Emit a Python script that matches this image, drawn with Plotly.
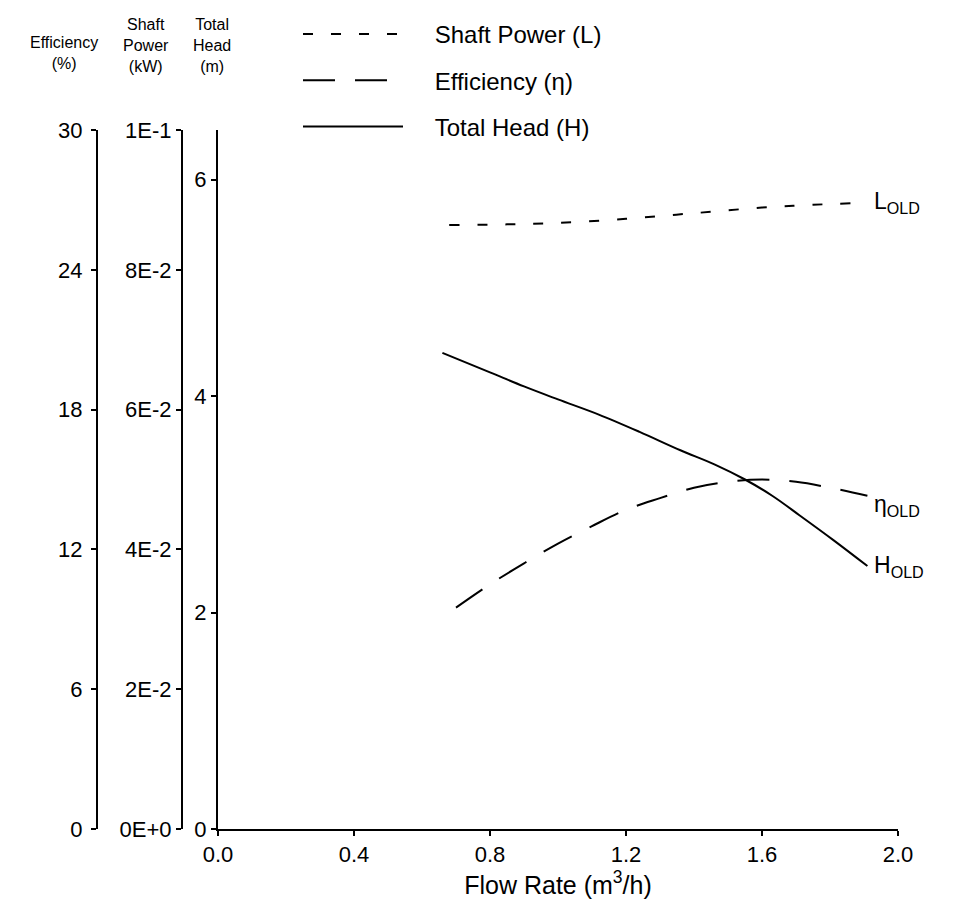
import plotly.graph_objects as go

# ---- data ----
flow_L = [0.68, 0.85, 1.00, 1.20, 1.40, 1.60, 1.75, 1.91]
power_L = [0.0864, 0.0865, 0.0867, 0.0873, 0.0881, 0.0889, 0.0893, 0.0896]

flow_eta = [0.70, 0.80, 0.90, 1.00, 1.10, 1.20, 1.30, 1.40, 1.50, 1.60, 1.70, 1.80, 1.91]
eff_eta = [9.5, 10.5, 11.4, 12.25, 13.0, 13.7, 14.2, 14.65, 14.9, 15.0, 14.9, 14.65, 14.3]

flow_H = [0.66, 0.80, 0.90, 1.00, 1.12, 1.24, 1.36, 1.46, 1.55, 1.63, 1.71, 1.81, 1.91]
head_H = [4.40, 4.22, 4.09, 3.97, 3.83, 3.67, 3.50, 3.37, 3.23, 3.08, 2.90, 2.67, 2.43]

x_ticks = [0.0, 0.4, 0.8, 1.2, 1.6, 2.0]
head_ticks = [0, 2, 4, 6]
power_ticks = [0, 0.02, 0.04, 0.06, 0.08, 0.1]
power_ticktext = ["0E+0", "2E-2", "4E-2", "6E-2", "8E-2", "1E-1"]
eff_ticks = [0, 6, 12, 18, 24, 30]

FONT = "Liberation Sans, Arial, sans-serif"
W, H = 958, 908
ML, MR, MT, MB = 60, 60, 130, 79
pw = W - ML - MR
ph = H - MT - MB


def px2paper_x(px):
    return (px - ML) / pw


def py2paper_y(py):
    return (H - MB - py) / ph


x_dom0 = px2paper_x(218)
PAD = "\u00a0" * 4

fig = go.Figure()
fig.add_trace(go.Scatter(x=flow_L, y=power_L, mode="lines", yaxis="y2",
                         name=PAD + "Shaft Power (L)", legendgroup="L",
                         line=dict(color="black", width=2, dash="10px,18px", shape="spline")))
fig.add_trace(go.Scatter(x=flow_eta, y=eff_eta, mode="lines", yaxis="y3",
                         name=PAD + "Efficiency (η)", legendgroup="e",
                         line=dict(color="black", width=2, dash="32px,20px", shape="spline")))
fig.add_trace(go.Scatter(x=flow_H, y=head_H, mode="lines", yaxis="y",
                         name=PAD + "Total Head (H)", legendgroup="H",
                         line=dict(color="black", width=2, shape="spline")))

axis_common = dict(showgrid=False, zeroline=False, showline=True, linecolor="black",
                   linewidth=2, ticks="outside", ticklen=5, tickwidth=2, tickcolor="black",
                   tickfont=dict(family=FONT, size=22, color="black"))

fig.update_layout(
    width=W, height=H,
    margin=dict(l=ML, r=MR, t=MT, b=MB),
    paper_bgcolor="white", plot_bgcolor="white",
    font=dict(family=FONT, color="black"),
    xaxis=dict(domain=[x_dom0, 1], range=[0, 2], tickvals=x_ticks, tickformat=".1f",
               title=dict(text="Flow Rate (m<sup>3</sup>/h)", standoff=10,
                          font=dict(family=FONT, size=25, color="black")),
               **axis_common),
    yaxis=dict(range=[0, 6.46], tickvals=head_ticks, anchor="x", side="left", **axis_common),
    yaxis2=dict(range=[0, 0.1], tickvals=power_ticks, ticktext=power_ticktext,
                overlaying="y", anchor="free", position=px2paper_x(182), side="left",
                **axis_common),
    yaxis3=dict(range=[0, 30], tickvals=eff_ticks, overlaying="y", anchor="free",
                position=px2paper_x(97), side="left", ticklabelstandoff=4, **axis_common),
    legend=dict(x=px2paper_x(298), y=py2paper_y(12), xanchor="left", yanchor="top",
                font=dict(family=FONT, size=24, color="black"), itemwidth=100,
                tracegroupgap=12, bgcolor="rgba(0,0,0,0)"),
    showlegend=True,
)

title_font = dict(family=FONT, size=16, color="black")
fig.add_annotation(text="Efficiency<br>(%)", x=px2paper_x(64), y=py2paper_y(32), xref="paper",
                   yref="paper", showarrow=False, xanchor="center", yanchor="top",
                   font=title_font)
fig.add_annotation(text="Shaft<br>Power<br>(kW)", x=px2paper_x(146), y=py2paper_y(14),
                   xref="paper", yref="paper", showarrow=False, xanchor="center",
                   yanchor="top", font=title_font)
fig.add_annotation(text="Total<br>Head<br>(m)", x=px2paper_x(212), y=py2paper_y(14),
                   xref="paper", yref="paper", showarrow=False, xanchor="center",
                   yanchor="top", font=title_font)

lab_font = dict(family=FONT, size=23, color="black")
fig.add_annotation(text="L<sub>OLD</sub>", x=flow_L[-1], y=power_L[-1], xref="x", yref="y2",
                   showarrow=False, xanchor="left", yanchor="middle", xshift=5, font=lab_font)
fig.add_annotation(text="η<sub>OLD</sub>", x=flow_eta[-1], y=eff_eta[-1], xref="x", yref="y3",
                   showarrow=False, xanchor="left", yanchor="middle", xshift=5, yshift=-10,
                   font=lab_font)
fig.add_annotation(text="H<sub>OLD</sub>", x=flow_H[-1], y=head_H[-1], xref="x", yref="y",
                   showarrow=False, xanchor="left", yanchor="middle", xshift=5, font=lab_font)

fig.write_html("out.html")
